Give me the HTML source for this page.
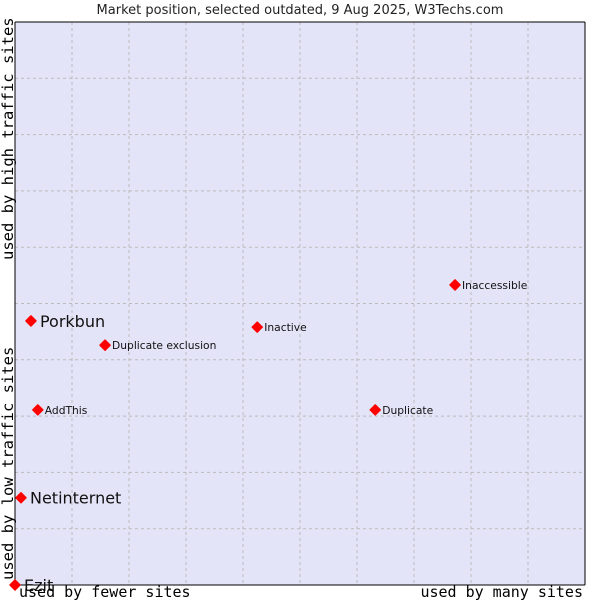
<!DOCTYPE html>
<html><head><meta charset="utf-8"><style>
body{margin:0;background:#fff;width:600px;height:600px;overflow:hidden}
svg text{font-family:"DejaVu Sans","Liberation Sans",sans-serif}
.mono{font-family:"DejaVu Sans Mono","Liberation Mono",monospace}
</style></head><body>
<svg id="chart" width="600" height="600">
<text x="300" y="14" text-anchor="middle" font-size="13" fill="#222">Market position, selected outdated, 9 Aug 2025, W3Techs.com</text>
<rect x="15" y="22" width="570" height="563" fill="#e4e4f8"/>
<g id="grid"></g>
<line x1="15" y1="22" x2="15" y2="585" stroke="#000"/>
<line x1="15" y1="585" x2="585" y2="585" stroke="#000"/>
<line x1="15" y1="22" x2="585" y2="22" stroke="#000"/>
<line x1="585" y1="22" x2="585" y2="585" stroke="#000"/>
<g id="points"></g>
<text class="mono" x="19" y="597" font-size="15" fill="#000">used by fewer sites</text>
<text class="mono" x="583" y="597" font-size="15" fill="#000" text-anchor="end">used by many sites</text>
<text class="mono" transform="translate(13,580) rotate(-90)" font-size="15.5" fill="#000">used by low traffic sites</text>
<text class="mono" transform="translate(13,260) rotate(-90)" font-size="15.5" fill="#000">used by high traffic sites</text>
</svg>
<script>
const names=["Porkbun","Netinternet","Ezit","AddThis","Duplicate exclusion","Inactive","Inaccessible","Duplicate"];
const xVals=[0.28,0.105,0,0.40,1.58,4.25,7.72,6.32];
const yVals=[4.69,1.55,0,3.11,4.26,4.58,5.33,3.11];
const big=[true,true,true,false,false,false,false,false];
const X0=15,X1=585,Y0=585,Y1=22;
const sx=v=>X0+v/10*(X1-X0), sy=v=>Y0-v/10*(Y0-Y1);
const ns="http://www.w3.org/2000/svg";
const grid=document.getElementById('grid');
for(let i=1;i<10;i++){
  const v=document.createElementNS(ns,'line');
  
  
  v.setAttribute('x1',sx(i));v.setAttribute('x2',sx(i));v.setAttribute('y1',Y1);v.setAttribute('y2',Y0);
  v.setAttribute('stroke','#bbb');v.setAttribute('stroke-dasharray','3,3');grid.appendChild(v);
  const h=document.createElementNS(ns,'line');
  
  
  h.setAttribute('x1',X0);h.setAttribute('x2',X1);h.setAttribute('y1',sy(i));h.setAttribute('y2',sy(i));
  h.setAttribute('stroke','#bbb');h.setAttribute('stroke-dasharray','3,3');grid.appendChild(h);
}
const pts=document.getElementById('points');
names.forEach((n,i)=>{
  const x=sx(xVals[i]),y=sy(yVals[i]);
  const d=document.createElementNS(ns,'path');
  
  
  d.setAttribute('d',`M${x} ${y-5}L${x+5} ${y}L${x} ${y+5}L${x-5} ${y}Z`);
  d.setAttribute('fill','#f00');d.setAttribute('stroke','#f00');d.setAttribute('stroke-width','1.5');d.setAttribute('stroke-linejoin','round');
  pts.appendChild(d);
  const t=document.createElementNS(ns,'text');
  
  
  t.setAttribute('x',x+(big[i]?9:7));t.setAttribute('y',y+(big[i]?6:4));
  t.setAttribute('font-size',big[i]?16:10.7);t.setAttribute('fill','#111');
  t.textContent=n;pts.appendChild(t);
});
</script>
</body></html>
